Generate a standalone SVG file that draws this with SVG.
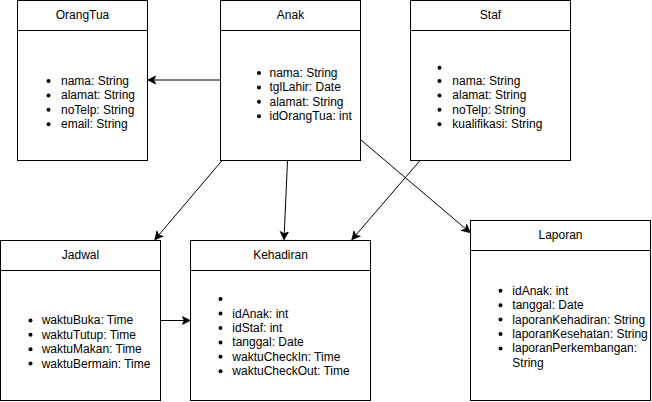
<svg xmlns="http://www.w3.org/2000/svg" width="652" height="402" viewBox="0 0 652 402">
<style>
.box{fill:#fff;stroke:#000;stroke-width:1}
.sep{stroke:#000;stroke-width:1}
text{font-family:"Liberation Sans",Arial,sans-serif;font-size:12px;fill:#000}
.t{text-anchor:middle}
.b{fill:#000}
.c{fill:none;stroke:#000;stroke-width:1}
</style>
<defs>
<marker id="arr" markerUnits="userSpaceOnUse" viewBox="-8 -5 9 10" refX="0" refY="0" markerWidth="9" markerHeight="10" orient="auto">
<path d="M0,0 L-7.5,-3.8 L-5.6,0 L-7.5,3.8 Z" fill="#000" stroke="#000" stroke-width="1"/>
</marker>
</defs>
<rect width="652" height="402" fill="#fff"/>
<g id="connectors">
<path class="c" d="M220.5,80 L148,80" marker-end="url(#arr)"/>
<path class="c" d="M222,160.5 L155,239.5" marker-end="url(#arr)"/>
<path class="c" d="M287.5,160.5 L284,239.5" marker-end="url(#arr)"/>
<path class="c" d="M420,160.5 L352,239.5" marker-end="url(#arr)"/>
<path class="c" d="M361,140 L470,232.5" marker-end="url(#arr)"/>
<path class="c" d="M160.5,320.5 L190,320.5" marker-end="url(#arr)"/>
</g>
<g id="OrangTua">
<rect class="box" x="17.5" y="0.5" width="130" height="160"/>
<line class="sep" x1="17.5" y1="30.5" x2="147.5" y2="30.5"/>
<text class="t" x="82.5" y="19.3">OrangTua</text>
<circle class="b" cx="48.5" cy="81" r="2"/><text x="61" y="85">nama: String</text>
<circle class="b" cx="48.5" cy="95.4" r="2"/><text x="61" y="99.4">alamat: String</text>
<circle class="b" cx="48.5" cy="109.8" r="2"/><text x="61" y="113.8">noTelp: String</text>
<circle class="b" cx="48.5" cy="124.2" r="2"/><text x="61" y="128.2">email: String</text>
</g>
<g id="Anak">
<rect class="box" x="220.5" y="0.5" width="140" height="160"/>
<line class="sep" x1="220.5" y1="30.5" x2="360.5" y2="30.5"/>
<text class="t" x="290.5" y="19.3">Anak</text>
<circle class="b" cx="259" cy="73" r="2"/><text x="269.5" y="77">nama: String</text>
<circle class="b" cx="259" cy="87.4" r="2"/><text x="269.5" y="91.4">tglLahir: Date</text>
<circle class="b" cx="259" cy="101.8" r="2"/><text x="269.5" y="105.8">alamat: String</text>
<circle class="b" cx="259" cy="116.2" r="2"/><text x="269.5" y="120.2">idOrangTua: int</text>
</g>
<g id="Staf">
<rect class="box" x="410.5" y="0.5" width="160" height="160"/>
<line class="sep" x1="410.5" y1="30.5" x2="570.5" y2="30.5"/>
<text class="t" x="490.5" y="19.3">Staf</text>
<circle class="b" cx="439.5" cy="67.7" r="2"/>
<circle class="b" cx="439.5" cy="81" r="2"/><text x="452.3" y="85">nama: String</text>
<circle class="b" cx="439.5" cy="95.4" r="2"/><text x="452.3" y="99.4">alamat: String</text>
<circle class="b" cx="439.5" cy="109.8" r="2"/><text x="452.3" y="113.8">noTelp: String</text>
<circle class="b" cx="439.5" cy="124.2" r="2"/><text x="452.3" y="128.2">kualifikasi: String</text>
</g>
<g id="Jadwal">
<rect class="box" x="0.5" y="240.5" width="160" height="160"/>
<line class="sep" x1="0.5" y1="270.5" x2="160.5" y2="270.5"/>
<text class="t" x="80.5" y="259.3">Jadwal</text>
<circle class="b" cx="30.5" cy="320.4" r="2"/><text x="41.7" y="324.4">waktuBuka: Time</text>
<circle class="b" cx="30.5" cy="334.8" r="2"/><text x="41.7" y="338.8">waktuTutup: Time</text>
<circle class="b" cx="30.5" cy="349.2" r="2"/><text x="41.7" y="353.2">waktuMakan: Time</text>
<circle class="b" cx="30.5" cy="363.6" r="2"/><text x="41.7" y="367.6">waktuBermain: Time</text>
</g>
<g id="Kehadiran">
<rect class="box" x="190.5" y="240.5" width="180" height="160"/>
<line class="sep" x1="190.5" y1="270.5" x2="370.5" y2="270.5"/>
<text class="t" x="280.5" y="259.3">Kehadiran</text>
<circle class="b" cx="220.5" cy="299" r="2"/>
<circle class="b" cx="220.5" cy="313.6" r="2"/><text x="232.3" y="317.6">idAnak: int</text>
<circle class="b" cx="220.5" cy="328" r="2"/><text x="232.3" y="332">idStaf: int</text>
<circle class="b" cx="220.5" cy="342.4" r="2"/><text x="232.3" y="346.4">tanggal: Date</text>
<circle class="b" cx="220.5" cy="356.8" r="2"/><text x="232.3" y="360.8">waktuCheckIn: Time</text>
<circle class="b" cx="220.5" cy="371.2" r="2"/><text x="232.3" y="375.2">waktuCheckOut: Time</text>
</g>
<g id="Laporan">
<rect class="box" x="470.5" y="220.5" width="180" height="180"/>
<line class="sep" x1="470.5" y1="250.5" x2="650.5" y2="250.5"/>
<text class="t" x="560.5" y="239.3">Laporan</text>
<circle class="b" cx="500.5" cy="290.8" r="2"/><text x="512.3" y="294.8">idAnak: int</text>
<circle class="b" cx="500.5" cy="305.2" r="2"/><text x="512.3" y="309.2">tanggal: Date</text>
<circle class="b" cx="500.5" cy="319.6" r="2"/><text x="512.3" y="323.6">laporanKehadiran: String</text>
<circle class="b" cx="500.5" cy="334" r="2"/><text x="512.3" y="338">laporanKesehatan: String</text>
<circle class="b" cx="500.5" cy="348.4" r="2"/><text x="512.3" y="352.4">laporanPerkembangan:</text>
<text x="512.3" y="366.8">String</text>
</g>
</svg>
